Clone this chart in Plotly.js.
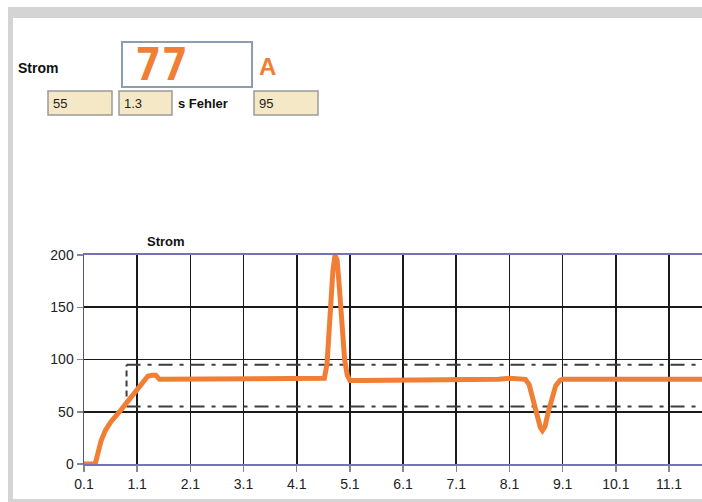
<!DOCTYPE html>
<html>
<head>
<meta charset="utf-8">
<script src="https://cdn.plot.ly/plotly-3.0.1.min.js"></script>
<style>html,body{margin:0;padding:0;background:#fff;}#chart{width:702px;height:502px;}</style>
</head>
<body>
<div id="chart"></div>
<script>
// ---- data ----
const timeS = [0.1, 0.31, 0.36, 0.42, 0.5, 0.6, 0.8, 1.0, 1.2, 1.3, 1.38, 1.45, 1.52, 1.7, 1.9, 2.1, 2.3, 2.5, 2.7, 2.9, 3.1, 3.3, 3.5, 3.7, 3.9, 4.1, 4.3, 4.5, 4.62, 4.67, 4.72, 4.78, 4.82, 4.86, 4.9, 4.95, 5.0, 5.05, 5.1, 5.3, 5.5, 5.8, 6.1, 6.4, 6.7, 7.0, 7.3, 7.6, 7.9, 8.1, 8.3, 8.4, 8.47, 8.55, 8.62, 8.68, 8.72, 8.77, 8.83, 8.9, 8.97, 9.05, 9.1, 9.5, 10.0, 10.5, 11.0, 11.5, 11.72];
const stromA = [0, 0, 10, 22, 32, 40, 52, 65, 78, 84, 85, 85, 81, 81, 81, 82, 81, 82, 81, 81, 82, 81, 81, 82, 81, 82, 81, 81, 82, 96, 140, 185, 200, 195, 170, 130, 100, 85, 80, 80, 80, 80, 81, 80, 81, 80, 81, 81, 81, 82, 81, 81, 76, 60, 45, 35, 32, 36, 50, 65, 75, 80, 81, 81, 81, 81, 81, 81, 81];
const limitT = [0.9, 11.72];
const upperLimit = [95, 95];
const lowerLimit = [55, 55];
const xTickVals = [0.1, 1.1, 2.1, 3.1, 4.1, 5.1, 6.1, 7.1, 8.1, 9.1, 10.1, 11.1];
const xTickText = ["0.1", "1.1", "2.1", "3.1", "4.1", "5.1", "6.1", "7.1", "8.1", "9.1", "10.1", "11.1"];
const yTickVals = [0, 50, 100, 150, 200];
const displayValue = "77";
const fieldValues = ["55", "1.3", "95"];

// ---- geometry helpers (pixel -> paper) ----
const L = 84, R = 702, T = 255, B = 464;
const px = x => (x - L) / (R - L);
const py = y => (B - y) / (B - T);

const orange = '#f07f35';
const dashCol = '#3c3c3c';

const traces = [
  {x: [limitT[0], limitT[1]], y: upperLimit, mode: 'lines', line: {color: dashCol, width: 2, dash: '14px,7px,4px,7px'}, hoverinfo: 'skip'},
  {x: [limitT[0], limitT[1]], y: lowerLimit, mode: 'lines', line: {color: dashCol, width: 2, dash: '14px,7px,4px,7px'}, hoverinfo: 'skip'},
  {x: [limitT[0], limitT[0]], y: [lowerLimit[0], upperLimit[0]], mode: 'lines', line: {color: dashCol, width: 2, dash: '6px,4px'}, hoverinfo: 'skip'},
  {x: timeS, y: stromA, mode: 'lines', line: {color: orange, width: 5}, hoverinfo: 'skip'}
];

function box(x0, y0, x1, y1, fill, line, lw) {
  return {type: 'rect', xref: 'paper', yref: 'paper', x0: px(x0), x1: px(x1), y0: py(y1), y1: py(y0),
          fillcolor: fill, line: {color: line, width: lw}, layer: 'above'};
}

const shapes = [
  // gray frame
  box(8, 7, 702, 18, '#d4d4d4', 'rgba(0,0,0,0)', 0),
  box(8, 7, 13, 502, '#d4d4d4', 'rgba(0,0,0,0)', 0),
  box(8, 499, 702, 502, '#d4d4d4', 'rgba(0,0,0,0)', 0),
  // display box
  box(122, 42, 252, 87, '#ffffff', '#8d9cae', 2),
  // small fields
  box(48, 91, 112, 115, '#f5e8c6', '#9a9a9a', 1.5),
  box(119, 91, 172, 115, '#f5e8c6', '#9a9a9a', 1.5),
  box(254, 91, 318, 115, '#f5e8c6', '#9a9a9a', 1.5)
];

const ann = (x, y, text, opts) => Object.assign({xref: 'paper', yref: 'paper', x: px(x), y: py(y), text: text, showarrow: false,
  xanchor: 'left', yanchor: 'middle', font: {family: 'Liberation Sans, Arial, sans-serif', size: 13, color: '#111'}}, opts || {});

const annotations = [
  ann(16, 68, '<b>Strom</b>', {font: {family: 'Liberation Sans, Arial, sans-serif', size: 14, color: '#111'}}),
  ann(133, 64, '<b>' + displayValue + '</b>', {font: {family: 'DejaVu Sans Mono, monospace', size: 44, color: orange}}),
  ann(257, 66, '<b>A</b>', {font: {family: 'Liberation Sans, Arial, sans-serif', size: 24, color: orange}}),
  ann(51, 103, fieldValues[0], {font: {family: 'Liberation Sans, Arial, sans-serif', size: 13, color: '#222'}}),
  ann(122, 103, fieldValues[1], {font: {family: 'Liberation Sans, Arial, sans-serif', size: 13, color: '#222'}}),
  ann(176, 103, '<b>s Fehler</b>', {font: {family: 'Liberation Sans, Arial, sans-serif', size: 13, color: '#111'}}),
  ann(257, 103, fieldValues[2], {font: {family: 'Liberation Sans, Arial, sans-serif', size: 13, color: '#222'}}),
  ann(145, 241, '<b>Strom</b>', {font: {family: 'Liberation Sans, Arial, sans-serif', size: 13, color: '#111'}})
];

const layout = {
  width: 702, height: 502,
  margin: {l: L, r: 702 - R, t: T, b: 502 - B, pad: 0},
  paper_bgcolor: '#ffffff', plot_bgcolor: '#ffffff',
  showlegend: false,
  xaxis: {range: [0.1, 11.72], tickvals: xTickVals, ticktext: xTickText, showgrid: true, gridcolor: '#1a1a1a', gridwidth: 1.6,
          zeroline: false, showline: true, linecolor: '#7474b4', linewidth: 2, mirror: true,
          ticks: 'outside', ticklen: 6, tickcolor: '#888', tickwidth: 1.5,
          tickfont: {family: 'Liberation Sans, Arial, sans-serif', size: 14, color: '#222'}},
  yaxis: {range: [0, 200], tickvals: yTickVals, showgrid: true, gridcolor: '#1a1a1a', gridwidth: 1.6,
          zeroline: false, showline: true, linecolor: '#555577', linewidth: 1.5, mirror: false,
          ticks: 'outside', ticklen: 6, tickcolor: '#888', tickwidth: 1.5,
          tickfont: {family: 'Liberation Sans, Arial, sans-serif', size: 14, color: '#222'}},
  shapes: shapes,
  annotations: annotations
};

Plotly.newPlot('chart', traces, layout, {staticPlot: true, displayModeBar: false});
</script>
</body>
</html>
